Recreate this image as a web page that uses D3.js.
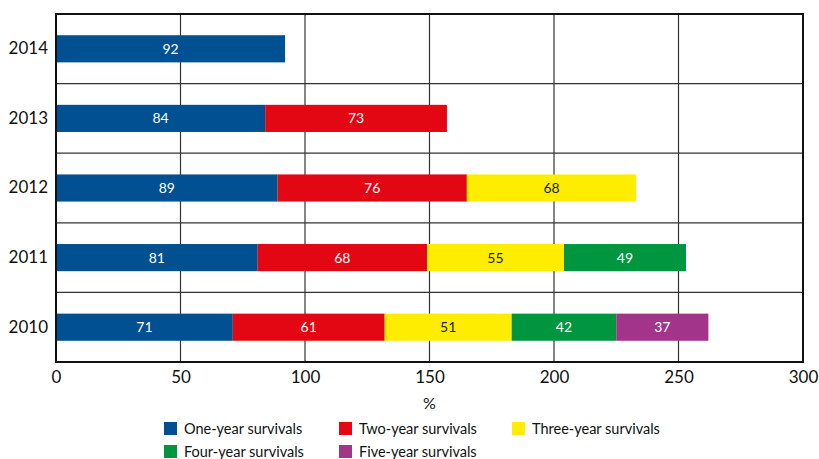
<!DOCTYPE html>
<html><head><meta charset="utf-8">
<script src="https://cdn.jsdelivr.net/npm/d3@7"></script>
<style>body{margin:0;background:#fff}svg{display:block}text{font-family:Lato,"DejaVu Sans",sans-serif}</style>
</head><body><svg id="c" width="819" height="459"></svg>
<script>
const years = ["2014","2013","2012","2011","2010"];
const seriesNames = ["One-year survivals","Two-year survivals","Three-year survivals","Four-year survivals","Five-year survivals"];
const seriesColors = ["#005092","#e30613","#ffed00","#009640","#a2358a"];
const labelColors = ["#fff","#fff","#222","#fff","#fff"];
const oneYear   = [92,84,89,81,71];
const twoYear   = [null,73,76,68,61];
const threeYear = [null,null,68,55,51];
const fourYear  = [null,null,null,49,42];
const fiveYear  = [null,null,null,null,37];
const xTicks = [0,50,100,150,200,250,300];
const xTitle = "%";

const series = [oneYear,twoYear,threeYear,fourYear,fiveYear];
const svg = d3.select("#c");
const m = {l:56,r:803,t:14,b:362};
const x = d3.scaleLinear().domain([0,300]).range([m.l,m.r]);
const y = d3.scaleBand().domain(years).range([m.t,m.b]).paddingInner(0.61).paddingOuter(0.305);
const step = y.step();

// grid
const g = svg.append("g");
xTicks.slice(1,-1).forEach(t=>g.append("line").attr("x1",x(t)).attr("x2",x(t)).attr("y1",m.t).attr("y2",m.b).attr("stroke","#333").attr("stroke-width",1.2));
years.slice(1).forEach(yr=>{const yy=y(yr)-y.paddingOuter()*step; g.append("line").attr("x1",m.l).attr("x2",m.r).attr("y1",yy).attr("y2",yy).attr("stroke","#333").attr("stroke-width",1.2);});

// bars
years.forEach((yr,i)=>{
  let acc=0;
  series.forEach((s,j)=>{
    const v=s[i]; if(v==null) return;
    svg.append("rect").attr("x",x(acc)).attr("y",y(yr)).attr("width",x(acc+v)-x(acc)).attr("height",y.bandwidth())
      .attr("fill",seriesColors[j]);
    svg.append("text").attr("x",(x(acc)+x(acc+v))/2).attr("y",y(yr)+y.bandwidth()/2).attr("dy","0.36em")
      .attr("text-anchor","middle").attr("font-size",14).attr("fill",labelColors[j]).text(v);
    acc+=v;
  });
});

// frame
svg.append("rect").attr("x",m.l).attr("y",m.t).attr("width",m.r-m.l).attr("height",m.b-m.t).attr("fill","none").attr("stroke","#111").attr("stroke-width",2);

// axes
const xa = svg.append("g").attr("transform",`translate(0,${m.b})`).call(d3.axisBottom(x).tickValues(xTicks).tickSize(0).tickPadding(9));
xa.select(".domain").remove();
xa.selectAll("text").attr("font-size",17).attr("fill","#111").style("font-family","Lato,'DejaVu Sans',sans-serif");
const ya = svg.append("g").attr("transform",`translate(${m.l},0)`).call(d3.axisLeft(y).tickSize(0).tickPadding(8));
ya.select(".domain").remove();
ya.selectAll("text").attr("font-size",17).attr("fill","#111").style("font-family","Lato,'DejaVu Sans',sans-serif");
svg.append("text").attr("x",(m.l+m.r)/2).attr("y",409).attr("text-anchor","middle").attr("font-size",16).attr("fill","#111").text(xTitle);

// legend
const legX=[164,339,512], legY=[422,445];
seriesNames.forEach((n,i)=>{
  const lx=legX[i%3], ly=legY[Math.floor(i/3)];
  svg.append("rect").attr("x",lx).attr("y",ly).attr("width",13).attr("height",13).attr("fill",seriesColors[i]);
  svg.append("text").attr("x",lx+20).attr("y",ly+7).attr("dy","0.36em").attr("font-size",14.5).attr("fill","#111").text(n);
});
</script></body></html>
